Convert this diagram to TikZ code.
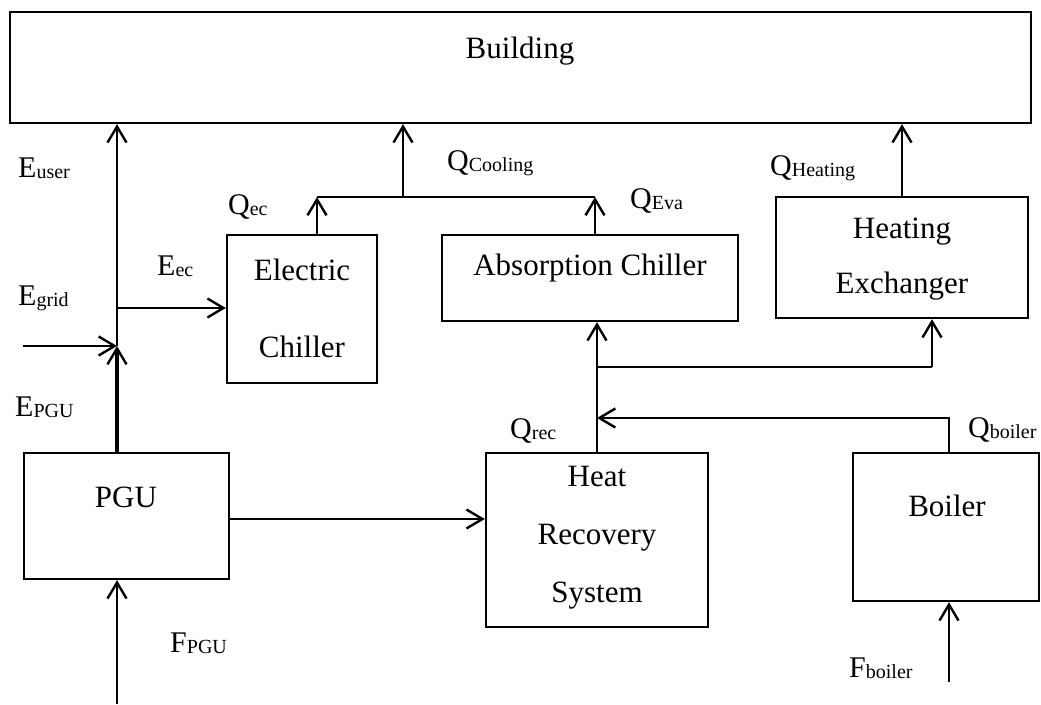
\documentclass[tikz,border=0pt]{standalone}
\usepackage{fontspec}
\setmainfont{Liberation Serif}
\usetikzlibrary{arrows.meta}
\newcommand\sbx[1]{\raisebox{-1.5pt}{\fontsize{20}{20}\selectfont #1}}
\begin{document}
\begin{tikzpicture}[x=1pt,y=-1pt,
  box/.style={draw,line width=2.4pt,rectangle,inner sep=0pt},
  txt/.style={anchor=base,inner sep=0pt,font=\fontsize{31}{36}\selectfont},
  lab/.style={anchor=base west,inner sep=0pt,font=\fontsize{30}{36}\selectfont},
  flow/.style={line width=2.4pt,-{Straight Barb[length=16pt,width=19pt]}},
  plain/.style={line width=2.4pt},
  thin/.style={line width=1.8pt}]
\useasboundingbox (0,0) rectangle (1041,704);
% boxes
\node[box,minimum width=1021pt,minimum height=111pt] (bld) at (520.5,67.5) {};
\node[box,minimum width=150pt,minimum height=148pt] (ec) at (302,309) {};
\node[box,minimum width=296pt,minimum height=86pt] (ac) at (590,278) {};
\node[box,minimum width=252pt,minimum height=121pt] (hx) at (902,257.5) {};
\node[box,minimum width=205pt,minimum height=126pt] (pgu) at (126.5,516) {};
\node[box,minimum width=222pt,minimum height=174pt] (hrs) at (597,540) {};
\node[box,minimum width=186pt,minimum height=148pt] (blr) at (946,527) {};
% box texts
\node[txt] (tbld) at (520,58) {Building};
\node[txt] (tec1) at (302,280) {Electric};
\node[txt] (tec2) at (302,357) {Chiller};
\node[txt] (tac) at (590,275) {Absorption Chiller};
\node[txt] (thx1) at (902,238) {Heating};
\node[txt] (thx2) at (902,293) {Exchanger};
\node[txt] (tpgu) at (126,507) {PGU};
\node[txt] (thrs1) at (597,486) {Heat};
\node[txt] (thrs2) at (597,544) {Recovery};
\node[txt] (thrs3) at (597,602) {System};
\node[txt] (tblr) at (947,516) {Boiler};
% labels
\node[lab] (leuser) at (18,177) {E\sbx{user}};
\node[lab] (legrid) at (18,305) {E\sbx{grid}};
\node[lab] (lepgu) at (15,416) {E\sbx{PGU}};
\node[lab] (leec) at (157,275) {E\sbx{ec}};
\node[lab] (lqec) at (228,214) {Q\sbx{ec}};
\node[lab] (lqcool) at (447,170) {Q\sbx{Cooling}};
\node[lab] (lqeva) at (630,208) {Q\sbx{Eva}};
\node[lab] (lqheat) at (770,175) {Q\sbx{Heating}};
\node[lab] (lqrec) at (510,438) {Q\sbx{rec}};
\node[lab] (lqblr) at (968,437) {Q\sbx{boiler}};
\node[lab] (lfpgu) at (170,652) {F\sbx{PGU}};
\node[lab] (lfblr) at (849,677) {F\sbx{boiler}};
% coordinates
\coordinate (fpguin) at (117,704);
\coordinate (j1) at (117,346);
\coordinate (gridin) at (23,346);
\coordinate (j2) at (117,308);
\coordinate (c1) at (317,197);
\coordinate (c2) at (595,197);
\coordinate (c3) at (403,197);
\coordinate (h1) at (597,367);
\coordinate (h2) at (932,367);
\coordinate (b1) at (949,418);
\coordinate (b2) at (597,418);
\coordinate (fblrin) at (949,682);
% connectors
\draw[flow] (fpguin) -- (pgu.south -| fpguin);
\draw[line width=4pt,-{Straight Barb[length=16pt,width=19pt,line width=2.4pt]}] (pgu.north -| j1) -- (j1);
\draw[flow] (gridin) -- (j1);
\draw[flow] (j1) -- (bld.south -| j1);
\draw[flow] (j2) -- (ec.west |- j2);
\draw[flow] (pgu.east |- 0,519) -- (hrs.west |- 0,519);
\draw[flow] (ec.north -| c1) -- (c1);
\draw[flow] (ac.north -| c2) -- (c2);
\draw[thin] (c1) -- (c2);
\draw[flow] (c3) -- (bld.south -| c3);
\draw[flow] (hx.north) -- (bld.south -| hx.north);
\draw[flow] (hrs.north -| h1) -- (ac.south -| h1);
\draw[plain] (h1) -- (h2);
\draw[flow] (h2) -- (hx.south -| h2);
\draw[flow] (blr.north -| b1) -- (b1) -- (b2);
\draw[flow] (fblrin) -- (blr.south -| fblrin);
\end{tikzpicture}
\end{document}
